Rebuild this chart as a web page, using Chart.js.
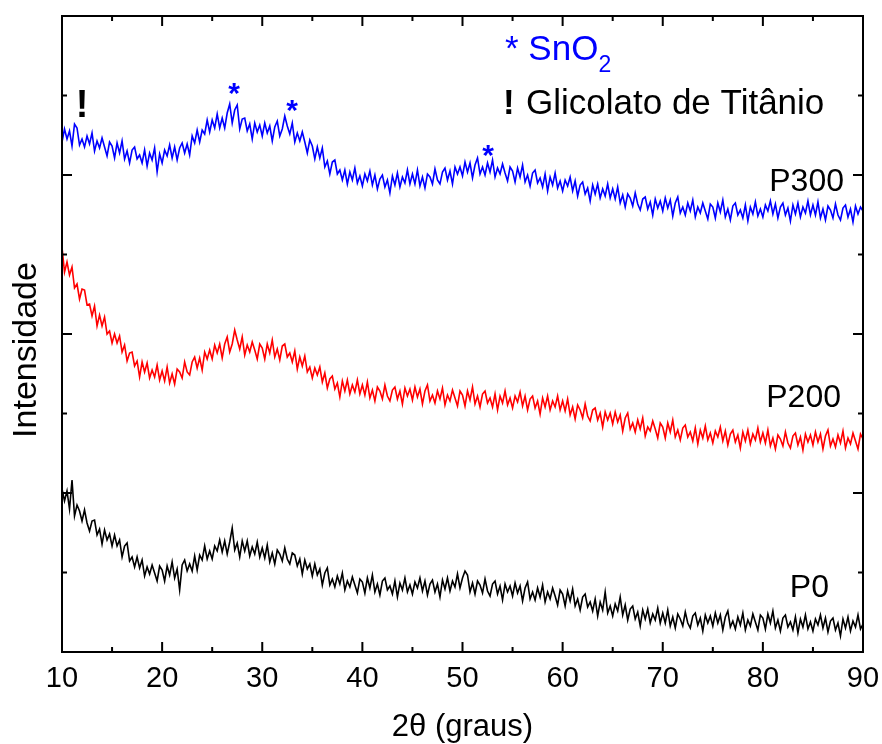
<!DOCTYPE html>
<html>
<head>
<meta charset="utf-8">
<script src="https://cdn.jsdelivr.net/npm/chart.js@4.4.1/dist/chart.umd.min.js"></script>
<style>
  html, body { margin: 0; padding: 0; background: #fff; }
  #wrap { width: 882px; height: 744px; }
</style>
</head>
<body>
<div id="wrap"><canvas id="chart" width="882" height="744"></canvas></div>
<script>
// 2theta grid: 10 to 90 degrees, every 0.25 degree
const angleStart = 10;
const angleStep = 0.25;

// intensities (arbitrary units, offset per sample)
const p0Counts = [
  163, 151, 161, 143, 172, 136, 147, 141, 131, 142, 129, 121, 131, 132, 117, 123, 108, 122, 112, 118,
  106, 117, 106, 112, 95, 106, 109, 91, 95, 85, 95, 84, 92, 76, 85, 78, 87, 79, 71, 86,
  82, 71, 86, 77, 90, 74, 83, 62, 87, 92, 81, 88, 81, 96, 82, 97, 92, 106, 93, 101,
  93, 106, 101, 112, 100, 111, 98, 110, 124, 102, 109, 95, 111, 101, 111, 96, 105, 98, 110, 95,
  104, 94, 107, 90, 99, 88, 102, 98, 91, 104, 93, 88, 99, 97, 86, 93, 78, 92, 83, 88,
  76, 88, 77, 83, 67, 79, 84, 67, 73, 65, 76, 68, 79, 62, 71, 65, 75, 67, 59, 73,
  70, 59, 74, 64, 77, 60, 68, 57, 71, 74, 62, 66, 58, 71, 55, 69, 62, 74, 60, 67,
  58, 70, 64, 74, 61, 71, 57, 68, 72, 60, 68, 55, 72, 63, 74, 61, 71, 65, 78, 64,
  74, 81, 77, 60, 69, 58, 71, 67, 59, 73, 61, 56, 68, 71, 58, 66, 52, 68, 60, 66,
  56, 69, 59, 66, 51, 64, 70, 53, 60, 52, 64, 55, 67, 50, 60, 53, 64, 56, 47, 62,
  58, 46, 61, 51, 63, 46, 53, 42, 55, 58, 45, 50, 41, 53, 36, 50, 42, 60, 39, 46,
  36, 48, 41, 55, 37, 47, 32, 43, 46, 33, 40, 26, 42, 33, 43, 29, 38, 32, 44, 29,
  39, 29, 42, 26, 35, 24, 38, 33, 26, 40, 29, 24, 36, 39, 27, 34, 21, 37, 29, 36,
  26, 39, 29, 37, 22, 35, 41, 25, 31, 23, 35, 27, 39, 22, 32, 26, 38, 30, 22, 37,
  34, 23, 38, 29, 41, 24, 32, 21, 34, 37, 25, 30, 22, 35, 19, 33, 25, 37, 23, 30,
  21, 33, 27, 37, 24, 34, 20, 31, 34, 22, 29, 16, 33, 24, 35, 21, 31, 25, 37, 23,
  28
];

const p200Counts = [
  405, 380, 390, 377, 385, 364, 368, 353, 363, 362, 347, 348, 336, 346, 326, 337, 326, 335, 318, 321,
  309, 318, 309, 316, 300, 307, 291, 299, 300, 286, 291, 275, 290, 280, 289, 274, 282, 275, 287, 272,
  281, 271, 285, 269, 278, 268, 283, 280, 274, 290, 280, 277, 290, 295, 284, 294, 282, 300, 293, 302,
  293, 307, 299, 308, 294, 308, 315, 300, 308, 322, 312, 303, 315, 297, 307, 300, 310, 302, 293, 308,
  304, 293, 308, 299, 312, 295, 303, 292, 306, 308, 295, 299, 290, 301, 283, 295, 286, 296, 280, 285,
  274, 284, 277, 285, 270, 279, 264, 273, 276, 263, 269, 255, 271, 261, 272, 258, 267, 260, 272, 258,
  267, 257, 270, 254, 262, 251, 265, 261, 253, 267, 256, 251, 262, 265, 253, 261, 248, 264, 256, 263,
  252, 265, 255, 263, 248, 261, 267, 251, 257, 249, 261, 253, 264, 247, 257, 251, 262, 254, 246, 261,
  257, 246, 261, 252, 265, 248, 256, 245, 258, 261, 249, 254, 245, 258, 242, 256, 249, 261, 247, 254,
  244, 256, 250, 260, 246, 256, 242, 253, 256, 244, 251, 238, 254, 245, 256, 242, 251, 245, 256, 242,
  251, 241, 253, 237, 245, 233, 247, 242, 234, 248, 236, 231, 242, 244, 232, 239, 225, 240, 232, 239,
  228, 240, 230, 237, 221, 234, 239, 223, 229, 220, 232, 223, 234, 216, 225, 221, 231, 223, 214, 229,
  225, 214, 229, 220, 232, 215, 222, 212, 224, 227, 215, 220, 211, 224, 208, 222, 214, 226, 212, 219,
  209, 221, 215, 225, 211, 221, 207, 218, 222, 210, 217, 204, 220, 211, 222, 208, 218, 212, 224, 210,
  219, 209, 222, 206, 214, 203, 217, 213, 206, 220, 209, 204, 216, 219, 207, 215, 202, 218, 210, 217,
  207, 220, 210, 218, 203, 216, 222, 206, 213, 205, 217, 209, 221, 204, 214, 208, 219, 211, 203, 218,
  213
];

const p300Counts = [
  510, 523, 513, 521, 506, 528, 524, 507, 513, 505, 516, 508, 519, 501, 511, 504, 514, 505, 496, 510,
  506, 494, 509, 499, 511, 493, 501, 489, 502, 505, 493, 497, 489, 502, 486, 499, 492, 504, 480, 498,
  489, 502, 496, 507, 494, 505, 492, 504, 509, 499, 508, 497, 516, 509, 522, 510, 522, 518, 532, 520,
  532, 524, 538, 524, 534, 524, 539, 548, 529, 542, 547, 523, 533, 534, 521, 528, 513, 529, 520, 527,
  516, 529, 519, 526, 511, 525, 531, 516, 523, 536, 526, 518, 529, 510, 519, 511, 520, 510, 499, 512,
  506, 493, 505, 494, 504, 485, 491, 478, 490, 492, 478, 482, 472, 482, 468, 480, 472, 484, 469, 476,
  466, 478, 471, 481, 467, 477, 463, 473, 477, 465, 472, 459, 476, 467, 479, 465, 475, 469, 482, 468,
  478, 468, 482, 466, 475, 464, 478, 475, 468, 483, 472, 468, 480, 484, 472, 481, 468, 485, 478, 485,
  476, 490, 480, 489, 474, 487, 494, 478, 485, 477, 489, 480, 492, 475, 484, 478, 488, 479, 471, 485,
  481, 470, 484, 475, 487, 470, 477, 466, 479, 482, 469, 474, 465, 478, 461, 475, 467, 479, 464, 471,
  461, 472, 466, 475, 461, 471, 456, 467, 470, 458, 464, 451, 467, 458, 468, 454, 463, 456, 468, 454,
  463, 453, 465, 449, 457, 445, 458, 454, 446, 459, 448, 442, 453, 455, 443, 450, 437, 453, 444, 451,
  441, 454, 444, 452, 436, 449, 455, 439, 445, 437, 449, 441, 452, 435, 445, 439, 449, 441, 433, 448,
  445, 434, 449, 440, 452, 435, 443, 432, 446, 449, 437, 442, 434, 447, 431, 445, 438, 450, 436, 443,
  435, 447, 441, 451, 438, 448, 434, 445, 449, 437, 444, 431, 447, 438, 449, 435, 445, 439, 451, 437,
  447, 437, 450, 434, 443, 432, 446, 442, 434, 448, 437, 432, 444, 447, 435, 443, 430, 446, 438, 445,
  441
];

// axis ticks
const xMajorTicks = [10, 20, 30, 40, 50, 60, 70, 80, 90];
const xMinorTicks = [15, 25, 35, 45, 55, 65, 75, 85];
const yMajorTicks = [0, 159, 318, 477, 636];
const yMinorTicks = [79.5, 238.5, 397.5, 556.5];

const FONT = '"Liberation Sans", Arial, Helvetica, sans-serif';

function toPoints(values) {
  return values.map((v, i) => ({ x: angleStart + i * angleStep, y: v }));
}

// frame, inward ticks, labels and annotations
const framePlugin = {
  id: 'frame',
  afterDatasetsDraw(chart) {
    const ctx = chart.ctx;
    const area = chart.chartArea;
    const xs = chart.scales.x;
    const ys = chart.scales.y;
    ctx.save();
    ctx.strokeStyle = '#000';
    ctx.lineWidth = 2;
    ctx.strokeRect(area.left, area.top, area.right - area.left, area.bottom - area.top);

    ctx.beginPath();
    xMajorTicks.forEach((v) => {
      const px = xs.getPixelForValue(v);
      ctx.moveTo(px, area.bottom); ctx.lineTo(px, area.bottom - 10);
      ctx.moveTo(px, area.top); ctx.lineTo(px, area.top + 10);
    });
    xMinorTicks.forEach((v) => {
      const px = xs.getPixelForValue(v);
      ctx.moveTo(px, area.bottom); ctx.lineTo(px, area.bottom - 5);
      ctx.moveTo(px, area.top); ctx.lineTo(px, area.top + 5);
    });
    yMajorTicks.forEach((v) => {
      const py = ys.getPixelForValue(v);
      ctx.moveTo(area.left, py); ctx.lineTo(area.left + 10, py);
      ctx.moveTo(area.right, py); ctx.lineTo(area.right - 10, py);
    });
    yMinorTicks.forEach((v) => {
      const py = ys.getPixelForValue(v);
      ctx.moveTo(area.left, py); ctx.lineTo(area.left + 5, py);
      ctx.moveTo(area.right, py); ctx.lineTo(area.right - 5, py);
    });
    ctx.stroke();

    // tick labels
    ctx.fillStyle = '#000';
    ctx.font = '29px ' + FONT;
    ctx.textAlign = 'center';
    ctx.textBaseline = 'alphabetic';
    xMajorTicks.forEach((v) => {
      ctx.fillText(String(v), xs.getPixelForValue(v), 687);
    });

    // axis titles
    ctx.font = '31px ' + FONT;
    ctx.fillText('2\u03b8 (graus)', (area.left + area.right) / 2, 736);
    ctx.save();
    ctx.translate(36, 350);
    ctx.rotate(-Math.PI / 2);
    ctx.font = '34px ' + FONT;
    ctx.fillText('Intensidade', 0, 0);
    ctx.restore();

    // sample labels
    ctx.font = '32px ' + FONT;
    ctx.textAlign = 'right';
    ctx.fillText('P300', 844, 191);
    ctx.fillText('P200', 841, 407);
    ctx.fillText('P0', 829, 597);

    // peak markers
    ctx.textAlign = 'center';
    ctx.fillStyle = '#0000ff';
    ctx.font = 'bold 30px ' + FONT;
    ctx.fillText('*', 234, 103);
    ctx.fillText('*', 292, 120);
    ctx.fillText('*', 488, 165);
    ctx.fillStyle = '#000';
    ctx.font = 'bold 38px ' + FONT;
    ctx.fillText('!', 82, 117);

    // legend
    ctx.textAlign = 'left';
    ctx.fillStyle = '#0000ff';
    ctx.font = '35px ' + FONT;
    const head = '* SnO';
    ctx.fillText(head, 505, 60);
    const w = ctx.measureText(head).width;
    ctx.font = '23px ' + FONT;
    ctx.fillText('2', 505 + w, 72);
    ctx.fillStyle = '#000';
    ctx.font = 'bold 35px ' + FONT;
    ctx.fillText('!', 503, 114);
    ctx.font = '35px ' + FONT;
    ctx.fillText('Glicolato de Tit\u00e2nio', 526, 114);
    ctx.restore();
  }
};

const chart = new Chart(document.getElementById('chart'), {
  type: 'line',
  data: {
    datasets: [
      { label: 'P300', data: toPoints(p300Counts), borderColor: '#0000ff' },
      { label: 'P200', data: toPoints(p200Counts), borderColor: '#ff0000' },
      { label: 'P0', data: toPoints(p0Counts), borderColor: '#000000' },
    ],
  },
  options: {
    responsive: false,
    devicePixelRatio: 1,
    animation: false,
    layout: { padding: { left: 62, right: 19, top: 16, bottom: 92 } },
    elements: {
      point: { radius: 0 },
      line: { borderWidth: 1.6, tension: 0 },
    },
    scales: {
      x: { type: 'linear', min: 10, max: 90, display: false },
      y: { type: 'linear', min: 0, max: 636, display: false },
    },
    plugins: {
      legend: { display: false },
      tooltip: { enabled: false },
    },
  },
  plugins: [framePlugin],
});
</script>
</body>
</html>
